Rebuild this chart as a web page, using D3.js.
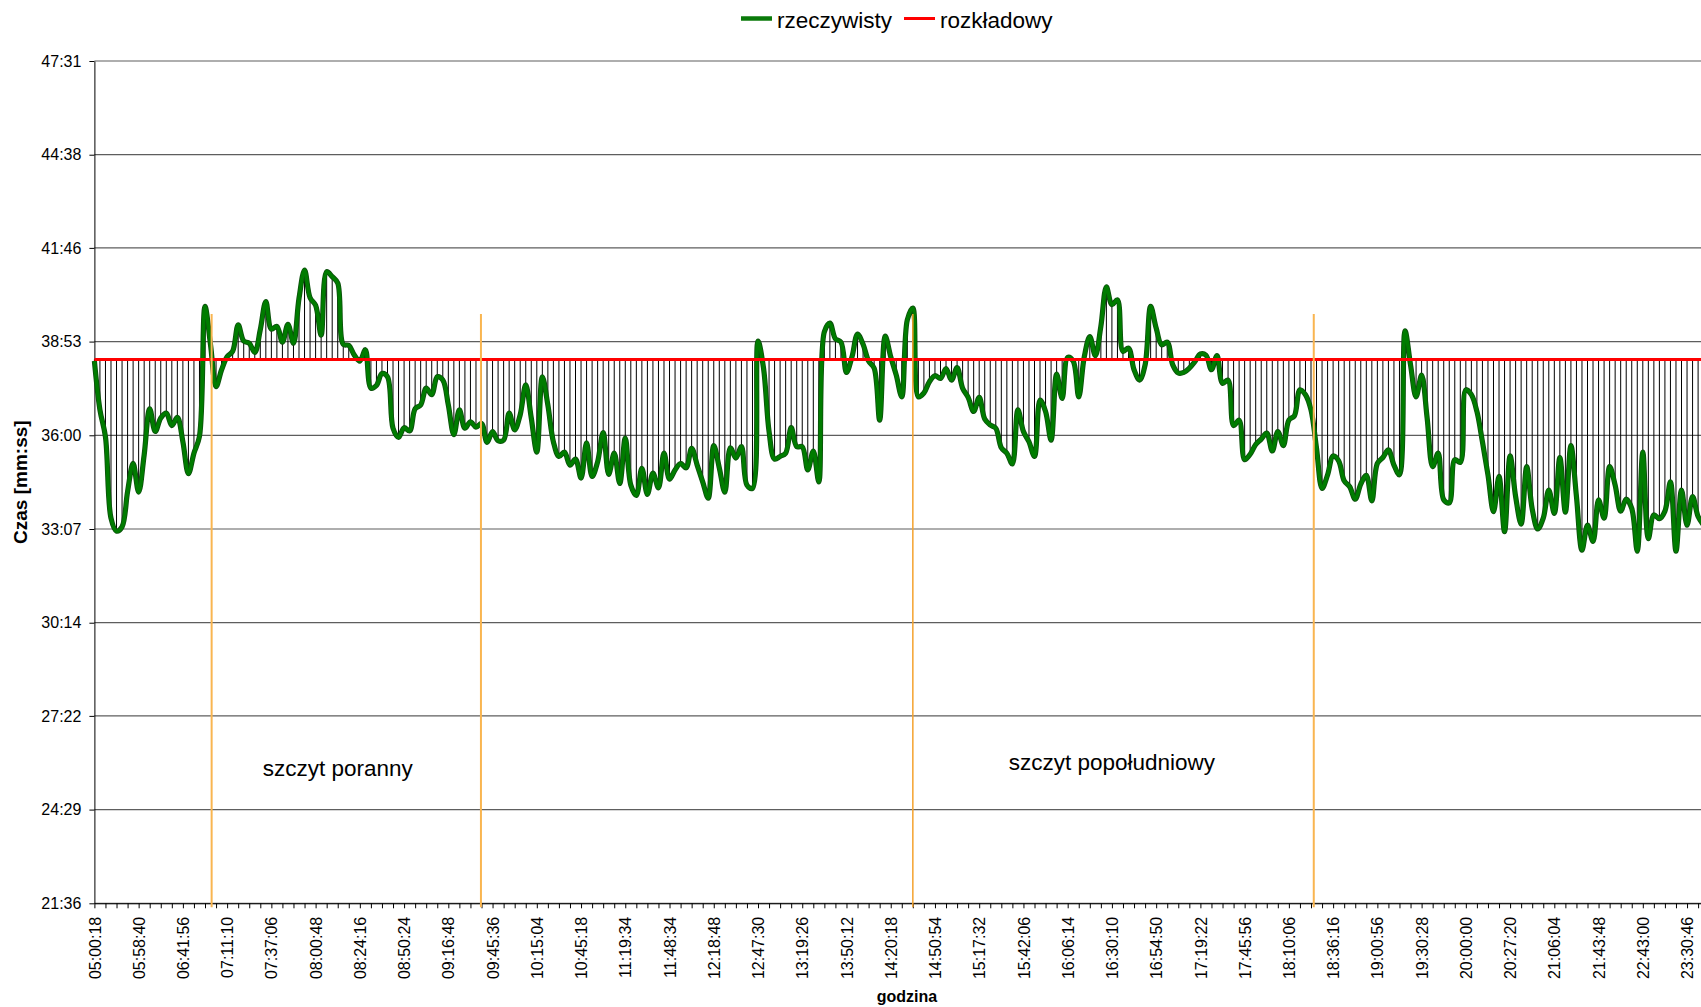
<!DOCTYPE html>
<html>
<head>
<meta charset="utf-8">
<script src="https://cdn.jsdelivr.net/npm/d3@7"></script>
<style>
	body { margin: 0; background: #fff; }
	svg { display: block; font-family: "Liberation Sans", Arial, sans-serif; }
</style>
</head>
<body>
<svg id="chart" width="1701" height="1007"></svg>
<script>

// czas przejazdu rzeczywisty [s], kolejne kursy
var rzeczywisty = [
	2297, 2207, 2157, 2007, 1983, 1991, 2056, 2108, 2055, 2124, 2209, 2167, 2192, 2201, 2178, 2193,
	2148, 2089, 2127, 2158, 2398, 2327, 2250, 2281, 2305, 2315, 2364, 2334, 2330, 2313, 2355, 2407,
	2356, 2361, 2332, 2365, 2330, 2413, 2465, 2414, 2400, 2345, 2462, 2453, 2441, 2328, 2326, 2308,
	2297, 2318, 2247, 2252, 2274, 2268, 2173, 2156, 2174, 2168, 2209, 2216, 2247, 2235, 2268, 2262,
	2216, 2161, 2207, 2173, 2185, 2175, 2182, 2147, 2167, 2150, 2151, 2201, 2170, 2198, 2253, 2192,
	2129, 2268, 2216, 2148, 2121, 2129, 2105, 2116, 2081, 2146, 2084, 2111, 2165, 2088, 2127, 2071,
	2155, 2068, 2049, 2099, 2051, 2090, 2063, 2127, 2079, 2096, 2108, 2100, 2136, 2105, 2074, 2044,
	2141, 2100, 2055, 2137, 2118, 2139, 2068, 2062, 2334, 2284, 2167, 2116, 2121, 2127, 2174, 2139,
	2139, 2096, 2131, 2074, 2351, 2367, 2338, 2332, 2276, 2305, 2347, 2328, 2297, 2284, 2188, 2343,
	2305, 2271, 2231, 2373, 2395, 2231, 2238, 2259, 2270, 2265, 2283, 2262, 2285, 2247, 2230, 2204,
	2230, 2190, 2179, 2173, 2137, 2127, 2107, 2207, 2167, 2148, 2121, 2225, 2204, 2151, 2273, 2228,
	2304, 2297, 2231, 2305, 2342, 2307, 2361, 2434, 2401, 2410, 2315, 2321, 2281, 2262, 2290, 2398,
	2358, 2327, 2332, 2290, 2275, 2276, 2284, 2296, 2310, 2308, 2281, 2307, 2256, 2262, 2178, 2188,
	2115, 2125, 2143, 2153, 2164, 2131, 2167, 2141, 2188, 2196, 2244, 2235, 2207, 2136, 2062, 2087,
	2122, 2113, 2076, 2065, 2042, 2070, 2086, 2039, 2108, 2119, 2133, 2105, 2087, 2353, 2290, 2231,
	2271, 2192, 2102, 2127, 2041, 2035, 2115, 2110, 2244, 2235, 2204, 2148, 2087, 2019, 2084, 1982,
	2122, 2047, 1996, 2102, 2024, 1987, 2007, 2059, 2016, 2119, 2018, 2141, 2047, 1948, 1994, 1964,
	2041, 2007, 2102, 2068, 2020, 2042, 2025, 1946, 2129, 1969, 2013, 2006, 2020, 2074, 1946, 2059,
	1994, 2047, 2010, 1994
]

// czas rozkladowy (staly dla wszystkich kursow)
var rozkladowy = "38:20"

// etykiety osi X - godzina odjazdu co 8 kurs
var godziny = ["05:00:18", "05:58:40", "06:41:56", "07:11:10", "07:37:06", "08:00:48", "08:24:16",
	"08:50:24", "09:16:48", "09:45:36", "10:15:04", "10:45:18", "11:19:34", "11:48:34", "12:18:48",
	"12:47:30", "13:19:26", "13:50:12", "14:20:18", "14:50:54", "15:17:32", "15:42:06", "16:06:14",
	"16:30:10", "16:54:50", "17:19:22", "17:45:56", "18:10:06", "18:36:16", "19:00:56", "19:30:28",
	"20:00:00", "20:27:20", "21:06:04", "21:43:48", "22:43:00", "23:30:46"]
var coIleEtykieta = 8
var coIlePodzialka = 2

// etykiety osi Y [mm:ss]
var yEtykiety = ["21:36", "24:29", "27:22", "30:14", "33:07", "36:00", "38:53", "41:46", "44:38", "47:31"]

// granice szczytow (pozycja w numerach kursow)
var szczytyGranice = [21.2, 69.9, 148.0, 220.5]
var szczytyOpisy = ["szczyt poranny", "szczyt popołudniowy"]
var szczytyOpisyKurs = [44, 184]

var serie = ["rzeczywisty", "rozkładowy"]
var kolory = ["#0a7a0a", "#ff0000"]

function naSekundy(s) {
	var p = s.split(":")
	return (+p[0]) * 60 + (+p[1])
}

var width = 1701,
	height = 1007,
	plotLeft = 94.4,
	plotTop = 61,
	plotBottom = 903.3,
	krok = 5.53;

var svg = d3.select("#chart")

var N = rzeczywisty.length
var plan = naSekundy(rozkladowy)
var yWartosci = yEtykiety.map(naSekundy)

var x = d3.scaleLinear().domain([0, N - 1]).range([plotLeft, plotLeft + (N - 1) * krok])
var y = d3.scaleLinear().domain([yWartosci[0], yWartosci[yWartosci.length - 1]]).range([plotBottom, plotTop])

// tlo
svg.append("rect").attr("width", width).attr("height", height).attr("fill", "#fff")

// linie siatki
svg.append("g")
	.selectAll("line")
	.data(yWartosci)
	.join("line")
	.attr("x1", plotLeft)
	.attr("x2", width)
	.attr("y1", function (d) { return y(d) })
	.attr("y2", function (d) { return y(d) })
	.attr("stroke", "#5e5e5e")
	.attr("stroke-width", 1.2)

// linie wysokie-niskie (roznica rzeczywisty - rozkladowy)
svg.append("g")
	.selectAll("line")
	.data(rzeczywisty)
	.join("line")
	.attr("x1", function (d, i) { return x(i) })
	.attr("x2", function (d, i) { return x(i) })
	.attr("y1", y(plan))
	.attr("y2", function (d) { return y(d) })
	.attr("stroke", "#000")
	.attr("stroke-width", 1)

// os Y
var yAxis = svg.append("g")
	.attr("transform", "translate(" + plotLeft + ",0)")
	.call(d3.axisLeft(y)
		.tickValues(yWartosci)
		.tickFormat(function (d, i) { return yEtykiety[i] })
		.tickSize(5)
		.tickSizeOuter(0)
		.tickPadding(8))
yAxis.select(".domain").attr("stroke", "#000")
yAxis.selectAll(".tick line").attr("stroke", "#000")
yAxis.selectAll("text")
	.attr("font-family", "'Liberation Sans', Arial, sans-serif")
	.attr("font-size", 16)
	.attr("fill", "#000")

// os X
var xAxis = svg.append("g")
	.attr("transform", "translate(0," + plotBottom + ")")
	.call(d3.axisBottom(x)
		.tickValues(d3.range(0, N, coIlePodzialka))
		.tickFormat(function (d) {
			return d % coIleEtykieta == 0 && godziny[d / coIleEtykieta] ? godziny[d / coIleEtykieta] : ""
		})
		.tickSize(5)
		.tickSizeOuter(0))
xAxis.select(".domain").attr("stroke", "#000")
xAxis.selectAll(".tick line").attr("stroke", "#000")
xAxis.selectAll("text")
	.attr("font-family", "'Liberation Sans', Arial, sans-serif")
	.attr("font-size", 16)
	.attr("fill", "#000")
	.attr("transform", "rotate(-90)")
	.attr("text-anchor", "end")
	.attr("x", -13.5)
	.attr("y", 0)
	.attr("dy", "0.35em")

// linia rozkladowa
var linia = d3.line()
	.x(function (d, i) { return x(i) })
	.y(function (d) { return y(d) })

// linia rzeczywista (wygladzona)
var liniaGladka = d3.line()
	.x(function (d, i) { return x(i) })
	.y(function (d) { return y(d) })
	.curve(d3.curveCatmullRom.alpha(0.5))

svg.append("path")
	.datum(rzeczywisty)
	.attr("d", liniaGladka)
	.attr("fill", "none")
	.attr("stroke", "#0c4f0c")
	.attr("stroke-width", 5.2)
	.attr("stroke-linejoin", "round")

svg.append("path")
	.datum(rzeczywisty)
	.attr("d", liniaGladka)
	.attr("fill", "none")
	.attr("stroke", "#007c00")
	.attr("stroke-width", 3.6)
	.attr("stroke-linejoin", "round")

svg.append("path")
	.datum(rzeczywisty.map(function () { return plan }))
	.attr("d", linia)
	.attr("fill", "none")
	.attr("stroke", kolory[1])
	.attr("stroke-width", 3)

// granice szczytow
svg.append("g")
	.selectAll("line")
	.data(szczytyGranice)
	.join("line")
	.attr("x1", function (d) { return x(d) })
	.attr("x2", function (d) { return x(d) })
	.attr("y1", 314)
	.attr("y2", plotBottom + 4)
	.attr("stroke", function (d, i) { return i == 2 ? "#f4a22e" : "#f9b550" })
	.attr("stroke-width", function (d, i) { return i == 2 ? 1.5 : 2 })

// opisy szczytow
svg.append("g")
	.selectAll("text")
	.data(szczytyOpisy)
	.join("text")
	.attr("x", function (d, i) { return x(szczytyOpisyKurs[i]) })
	.attr("y", function (d, i) { return i == 0 ? 776 : 770 })
	.attr("text-anchor", "middle")
	.attr("font-size", 22.5)
	.attr("fill", "#000")
	.text(function (d) { return d })

// tytuly osi
svg.append("text")
	.attr("transform", "translate(27," + ((plotTop + plotBottom) / 2) + ") rotate(-90)")
	.attr("text-anchor", "middle")
	.attr("font-size", 19)
	.attr("font-weight", "bold")
	.text("Czas [mm:ss]")

svg.append("text")
	.attr("x", 907)
	.attr("y", 1002)
	.attr("text-anchor", "middle")
	.attr("font-size", 16)
	.attr("font-weight", "bold")
	.text("godzina")

// legenda
var legendaX = [741, 904]
var legenda = svg.append("g")
serie.forEach(function (s, i) {
	legenda.append("line")
		.attr("x1", legendaX[i])
		.attr("x2", legendaX[i] + 31)
		.attr("y1", 18.5)
		.attr("y2", 18.5)
		.attr("stroke", kolory[i])
		.attr("stroke-width", i == 0 ? 4.5 : 3)
	legenda.append("text")
		.attr("x", legendaX[i] + 36)
		.attr("y", 27.5)
		.attr("font-size", 22.5)
		.attr("fill", "#000")
		.text(s)
})

</script>
</body>
</html>
